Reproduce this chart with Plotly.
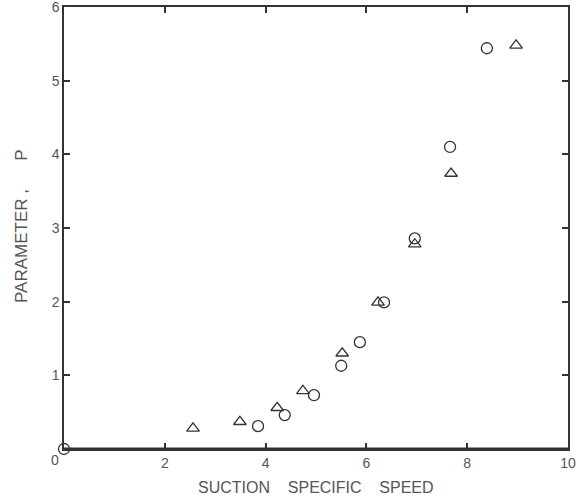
import plotly.graph_objects as go

# circles
circle_x = [0.0, 3.85, 4.38, 4.96, 5.50, 5.87, 6.35, 6.96, 7.66, 8.39]
circle_y = [0.0, 0.31, 0.46, 0.73, 1.13, 1.45, 1.99, 2.86, 4.10, 5.44]

# triangles
tri_x = [2.56, 3.49, 4.23, 4.74, 5.52, 6.23, 6.96, 7.68, 8.97]
tri_y = [0.28, 0.37, 0.56, 0.79, 1.30, 1.99, 2.78, 3.74, 5.48]

x_ticks = [2, 4, 6, 8, 10]
y_ticks = [1, 2, 3, 4, 5, 6]

ink = '#333333'
text_col = '#555555'

fig = go.Figure()

fig.add_trace(go.Scatter(
    x=circle_x, y=circle_y, mode='markers', cliponaxis=False,
    marker=dict(symbol='circle-open', size=11, color=ink, line=dict(width=1.3))))

fig.add_trace(go.Scatter(
    x=tri_x, y=tri_y, mode='markers', cliponaxis=False,
    marker=dict(symbol='triangle-up-open', size=11, color=ink, line=dict(width=1.3))))

# thick bottom axis line
fig.add_shape(type='line', xref='paper', yref='paper', x0=0, x1=1, y0=0, y1=0,
              line=dict(color=ink, width=3))

# the single shared "0" at the corner
fig.add_annotation(text='0', xref='paper', yref='paper', x=-0.018, y=-0.025,
                   xanchor='center', yanchor='middle', showarrow=False,
                   font=dict(size=14, color=text_col))

# axis titles
fig.add_annotation(text='PARAMETER ,&nbsp;&nbsp;&nbsp;&nbsp;&nbsp;&nbsp;P', xref='paper', yref='paper',
                   x=-0.083, y=0.505, textangle=-90, xanchor='center', yanchor='middle',
                   showarrow=False, font=dict(size=17, color=text_col))
fig.add_annotation(text='SUCTION&nbsp;&nbsp;&nbsp;&nbsp;SPECIFIC&nbsp;&nbsp;&nbsp;&nbsp;SPEED',
                   xref='paper', yref='paper', x=0.5, y=-0.088, xanchor='center',
                   yanchor='middle', showarrow=False, font=dict(size=16, color=text_col))

fig.update_xaxes(range=[0, 10], tickvals=x_ticks, ticks='inside', ticklen=6, tickwidth=1.5,
                 tickcolor=ink, showline=True, linecolor=ink, linewidth=1.5, mirror='ticks',
                 showgrid=False, zeroline=False, automargin=False, ticklabeloverflow='allow',
                 tickfont=dict(size=14, color=text_col))

fig.update_yaxes(range=[0, 6], tickvals=y_ticks, ticks='inside', ticklen=6, tickwidth=1.5,
                 tickcolor=ink, showline=True, linecolor=ink, linewidth=1.5, mirror='ticks',
                 showgrid=False, zeroline=False, automargin=False, ticklabeloverflow='allow',
                 tickfont=dict(size=14, color=text_col))

fig.update_layout(
    width=577, height=501,
    margin=dict(l=64, r=9, t=7, b=52),
    plot_bgcolor='white', paper_bgcolor='white',
    font=dict(family='Liberation Sans, Arial, sans-serif'),
    showlegend=False)

fig.write_html('out.html', config={'displayModeBar': False},
               post_script="document.body.style.margin='0';")
